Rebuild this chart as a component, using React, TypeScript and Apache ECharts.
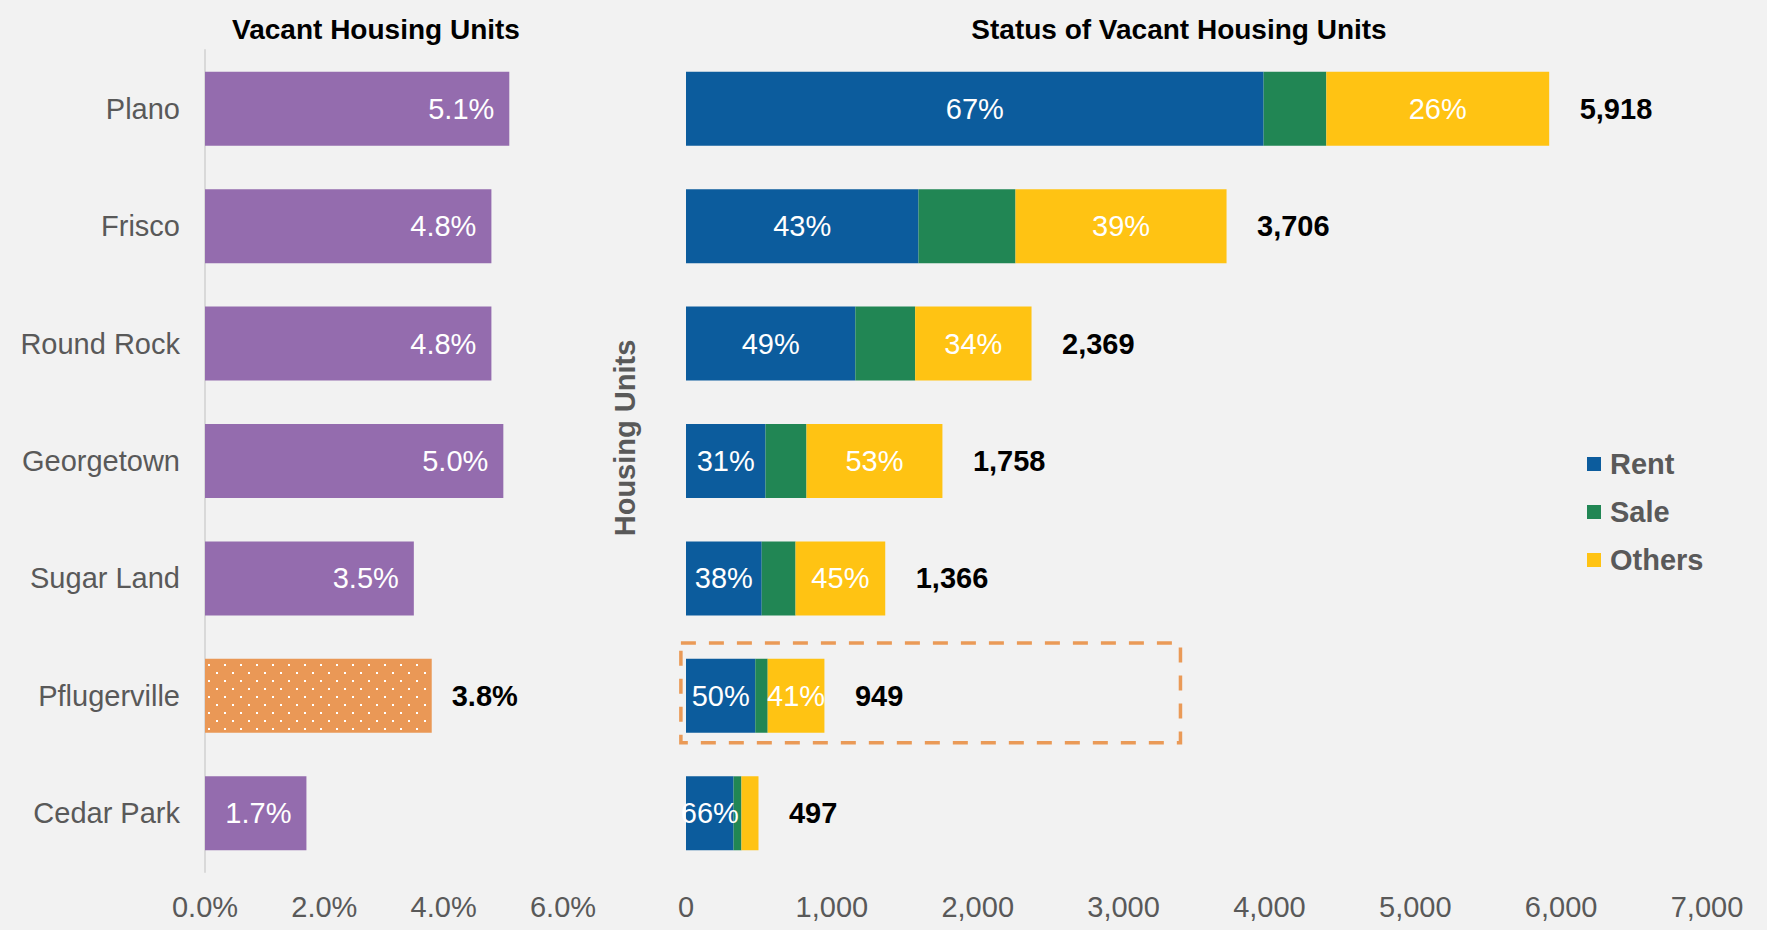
import React, { useEffect, useRef } from "react";
import * as echarts from "echarts";

const categories = ["Plano", "Frisco", "Round Rock", "Georgetown", "Sugar Land", "Pflugerville", "Cedar Park"];
const vacancyRate = [5.1, 4.8, 4.8, 5.0, 3.5, 3.8, 1.7];
const rentUnits = [3960, 1594, 1161, 545, 519, 475, 326];
const saleUnits = [430, 665, 410, 281, 232, 85, 54];
const othersUnits = [1528, 1447, 798, 932, 615, 389, 117];
const totalUnits = [5918, 3706, 2369, 1758, 1366, 949, 497];
const rateTicks = [0, 2, 6];
const unitTicks = [0, 1000, 7000];
const highlightCity = "Pflugerville";
const boxExtent = [-35, 3390];

const FONT = '"Liberation Sans", Arial, Helvetica, sans-serif';
const GRAY = "#595959";
const C_PURPLE = "#946CAE";
const C_ORANGE = "#EA9856";
const C_RENT = "#0C5C9D";
const C_SALE = "#218654";
const C_OTHERS = "#FFC313";
const FS = 29;

export default function App() {
  const ref = useRef<HTMLDivElement>(null);

  useEffect(() => {
    document.body.style.margin = "0";
    document.body.style.background = "#F2F2F2";
    const chart = echarts.init(ref.current!, null, { renderer: "svg" });

    const pctLabel = () => ({
      show: true,
      position: "inside",
      color: "#fff",
      fontSize: FS,
      fontFamily: FONT,
      formatter: (p: any) => {
        const share = p.value / totalUnits[p.dataIndex];
        return share >= 0.25 ? Math.round(share * 100) + "%" : "";
      },
    });

    const option: any = {
      animation: false,
      backgroundColor: "#F2F2F2",
      textStyle: { fontFamily: FONT },
      legend: {
        data: ["Rent", "Sale", "Others"],
        orient: "vertical",
        left: 1582,
        top: 442,
        icon: "rect",
        itemWidth: 14,
        itemHeight: 14,
        itemGap: 14,
        selectedMode: false,
        textStyle: {
          fontSize: FS,
          fontWeight: "bold",
          color: GRAY,
          fontFamily: FONT,
          lineHeight: 34,
          padding: [0, 0, 0, 4],
        },
      },
      grid: [
        { left: 205, width: 358, top: 50, bottom: 58 },
        { left: 686, width: 1021, top: 50, bottom: 58 },
      ],
      xAxis: [
        {
          gridIndex: 0,
          type: "value",
          min: rateTicks[0],
          max: rateTicks[2],
          interval: rateTicks[1],
          axisLine: { show: false },
          axisTick: { show: false },
          splitLine: { show: false },
          axisLabel: {
            fontSize: FS,
            color: GRAY,
            fontFamily: FONT,
            margin: 20,
            formatter: (v: number) => v.toFixed(1) + "%",
          },
        },
        {
          gridIndex: 1,
          type: "value",
          min: unitTicks[0],
          max: unitTicks[2],
          interval: unitTicks[1],
          axisLine: { show: false },
          axisTick: { show: false },
          splitLine: { show: false },
          axisLabel: {
            fontSize: FS,
            color: GRAY,
            fontFamily: FONT,
            margin: 20,
            formatter: (v: number) => v.toLocaleString("en-US"),
          },
        },
      ],
      yAxis: [
        {
          gridIndex: 0,
          type: "category",
          data: categories,
          inverse: true,
          axisLine: { show: true, lineStyle: { color: "#D9D9D9", width: 2 } },
          axisTick: { show: false },
          axisLabel: { fontSize: FS, color: GRAY, fontFamily: FONT, margin: 25 },
        },
        {
          gridIndex: 1,
          type: "category",
          data: categories,
          inverse: true,
          axisLine: { show: false },
          axisTick: { show: false },
          axisLabel: { show: false },
        },
      ],
      series: [
        {
          name: "Vacancy",
          type: "bar",
          xAxisIndex: 0,
          yAxisIndex: 0,
          barCategoryGap: "37%",
          data: vacancyRate.map((v, i) =>
            categories[i] === highlightCity
              ? {
                  value: v,
                  itemStyle: {
                    color: C_ORANGE,
                    decal: {
                      symbol: "rect",
                      symbolSize: 1,
                      color: "#FFFFFF",
                      dashArrayX: [
                        [2, 14],
                        [0, 8, 2, 6],
                      ],
                      dashArrayY: [2, 6],
                      rotation: 0,
                    },
                  },
                  label: {
                    position: "right",
                    distance: 20,
                    color: "#000",
                    fontWeight: "bold",
                  },
                }
              : v
          ),
          itemStyle: { color: C_PURPLE },
          label: {
            show: true,
            position: "insideRight",
            distance: 15,
            color: "#fff",
            fontSize: FS,
            fontFamily: FONT,
            formatter: (p: any) => Number(p.value).toFixed(1) + "%",
          },
        },
        {
          name: "Rent",
          type: "bar",
          stack: "units",
          xAxisIndex: 1,
          yAxisIndex: 1,
          barCategoryGap: "37%",
          data: rentUnits,
          itemStyle: { color: C_RENT },
          label: pctLabel(),
        },
        {
          name: "Sale",
          type: "bar",
          stack: "units",
          xAxisIndex: 1,
          yAxisIndex: 1,
          data: saleUnits,
          itemStyle: { color: C_SALE },
          label: pctLabel(),
        },
        {
          name: "Others",
          type: "bar",
          stack: "units",
          xAxisIndex: 1,
          yAxisIndex: 1,
          data: othersUnits,
          itemStyle: { color: C_OTHERS },
          label: pctLabel(),
        },
        {
          name: "Total",
          type: "scatter",
          xAxisIndex: 1,
          yAxisIndex: 1,
          symbolSize: 1,
          itemStyle: { color: "transparent" },
          data: totalUnits.map((t, i) => [t, categories[i]]),
          label: {
            show: true,
            position: "right",
            distance: 30,
            color: "#000000",
            textBorderWidth: 0,
            opacity: 1,
            fontWeight: "bold",
            fontSize: FS,
            fontFamily: FONT,
            formatter: (p: any) => Number(p.value[0]).toLocaleString("en-US"),
          },
        },
      ],
    };

    chart.setOption(option);

    const yC = chart.convertToPixel({ yAxisIndex: 1 } as any, highlightCity) as number;
    const y0 = chart.convertToPixel({ yAxisIndex: 1 } as any, categories[0]) as number;
    const y1 = chart.convertToPixel({ yAxisIndex: 1 } as any, categories[1]) as number;
    const band = Math.abs(y1 - y0);
    const xa = chart.convertToPixel({ xAxisIndex: 1 } as any, boxExtent[0]) as number;
    const xb = chart.convertToPixel({ xAxisIndex: 1 } as any, boxExtent[1]) as number;
    const boxH = band * 0.85;

    chart.setOption({
      graphic: [
        {
          type: "text",
          x: 376,
          y: 29,
          style: {
            text: "Vacant Housing Units",
            font: `bold 28px ${FONT}`,
            fill: "#000",
            align: "center",
            verticalAlign: "middle",
          },
        },
        {
          type: "text",
          x: 1179,
          y: 29,
          style: {
            text: "Status of Vacant Housing Units",
            font: `bold 28px ${FONT}`,
            fill: "#000",
            align: "center",
            verticalAlign: "middle",
          },
        },
        {
          type: "text",
          x: 625,
          y: 438,
          rotation: Math.PI / 2,
          style: {
            text: "Housing Units",
            font: `bold 29px ${FONT}`,
            fill: GRAY,
            align: "center",
            verticalAlign: "middle",
          },
        },
        {
          type: "rect",
          shape: { x: xa, y: yC - boxH / 2 - 3, width: xb - xa, height: boxH },
          style: {
            fill: "none",
            stroke: "#EA9A57",
            lineWidth: 3.5,
            lineDash: [15, 13],
          },
          z: 10,
        },
      ],
    });

    return () => chart.dispose();
  }, []);

  return <div ref={ref} style={{ width: 1767, height: 930 }} />;
}
